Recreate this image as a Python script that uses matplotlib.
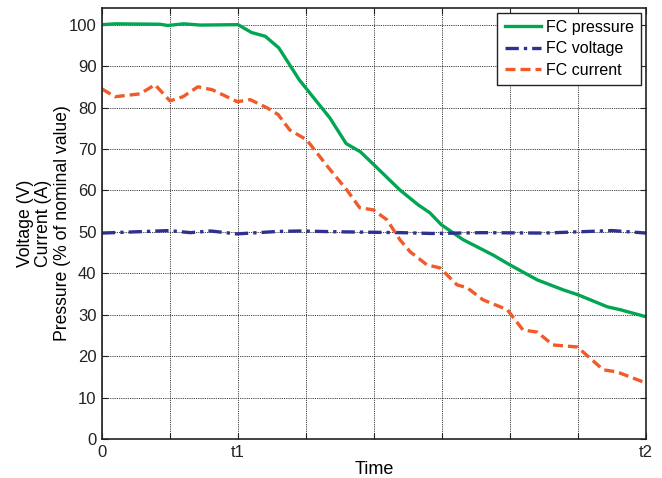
import matplotlib
matplotlib.use("Agg")
import matplotlib.pyplot as plt

plt.rcParams['font.family'] = ['Liberation Sans', 'DejaVu Sans']

pressure_x = [0, 0.2, 0.85, 0.97, 1.2, 1.45, 2.0, 2.2, 2.4, 2.6, 2.9, 3.35, 3.59, 3.8, 4.01,
              4.38, 4.65, 4.82, 4.99, 5.31, 5.75, 6.0, 6.4, 6.78, 7.0, 7.43, 7.62, 8.0]
pressure_y = [100, 100.2, 100.1, 99.8, 100.2, 99.9, 100, 98.1, 97.2, 94.4, 86.7, 77.5, 71.3, 69.3, 66,
              60.1, 56.5, 54.6, 51.7, 48.1, 44.4, 42, 38.4, 36, 34.8, 31.9, 31.2, 29.5]

current_x = [0, 0.19, 0.56, 0.78, 1.0, 1.19, 1.41, 1.62, 1.99, 2.18, 2.43, 2.59, 2.76, 3.01, 3.32,
             3.6, 3.79, 3.99, 4.19, 4.38, 4.53, 4.78, 4.97, 5.22, 5.37, 5.6, 5.96, 6.19, 6.4,
             6.63, 6.99, 7.37, 7.57, 8.0]
current_y = [84.5, 82.6, 83.3, 85.5, 81.6, 82.6, 85, 84.3, 81.4, 81.9, 79.9, 78.3, 74.6, 72.2, 65.7,
             60.1, 55.8, 55.3, 52.9, 48.1, 45.2, 42, 41.3, 37.2, 36.5, 33.6, 31.2, 26.3, 25.8,
             22.7, 22.2, 16.7, 16.2, 13.5]

voltage_x = [0, 0.5, 0.98, 1.3, 1.6, 1.98, 2.6, 2.9, 3.5, 4.4, 4.85, 5.6, 6.5, 7.5, 8.0]
voltage_y = [49.7, 50.0, 50.3, 49.8, 50.2, 49.5, 50.1, 50.2, 50.0, 49.8, 49.6, 49.8, 49.7, 50.3, 49.7]

xtick_pos = [0, 1, 2, 3, 4, 5, 6, 7, 8]
xtick_labels = ['0', '', 't1', '', '', '', '', '', 't2']
ytick_pos = [0, 10, 20, 30, 40, 50, 60, 70, 80, 90, 100]

fig = plt.figure(figsize=(6.62, 4.78), dpi=100)
ax = fig.add_axes([0.154, 0.0816, 0.822, 0.9015])

ax.plot(pressure_x, pressure_y, color='#00a651', lw=2.4, label='FC pressure')
ax.plot(voltage_x, voltage_y, color='#2e3192', lw=2.4, ls=(0, (4, 1.5, 1, 1.5)), label='FC voltage')
ax.plot(current_x, current_y, color='#f15a29', lw=2.4, ls=(0, (3, 1.5)), label='FC current')

ax.set_xlim(0, 8)
ax.set_ylim(0, 104)
ax.set_xticks(xtick_pos)
ax.set_xticklabels(xtick_labels)
ax.set_yticks(ytick_pos)
ax.grid(True, color='black', ls=(0, (1, 1.2)), lw=0.6)
ax.tick_params(direction='in', top=True, right=True, labelsize=12, colors='#222222', length=4, pad=4)
for s in ax.spines.values():
    s.set_linewidth(1.2)
    s.set_color('#222222')

ax.set_xlabel('Time', fontsize=13, labelpad=1)
ax.set_ylabel('Voltage (V)\nCurrent (A)\nPressure (% of nominal value)', fontsize=12.7,
              linespacing=1.12, labelpad=-1.5)

leg = ax.legend(loc='upper right', fontsize=11.5, frameon=True, fancybox=False,
                handlelength=2.3, borderpad=0.45, labelspacing=0.4, handletextpad=0.3,
                borderaxespad=0.3)
leg.get_frame().set_edgecolor('#222222')
leg.get_frame().set_linewidth(1.0)
leg.get_frame().set_alpha(1)

fig.savefig('out.png', dpi=100)
